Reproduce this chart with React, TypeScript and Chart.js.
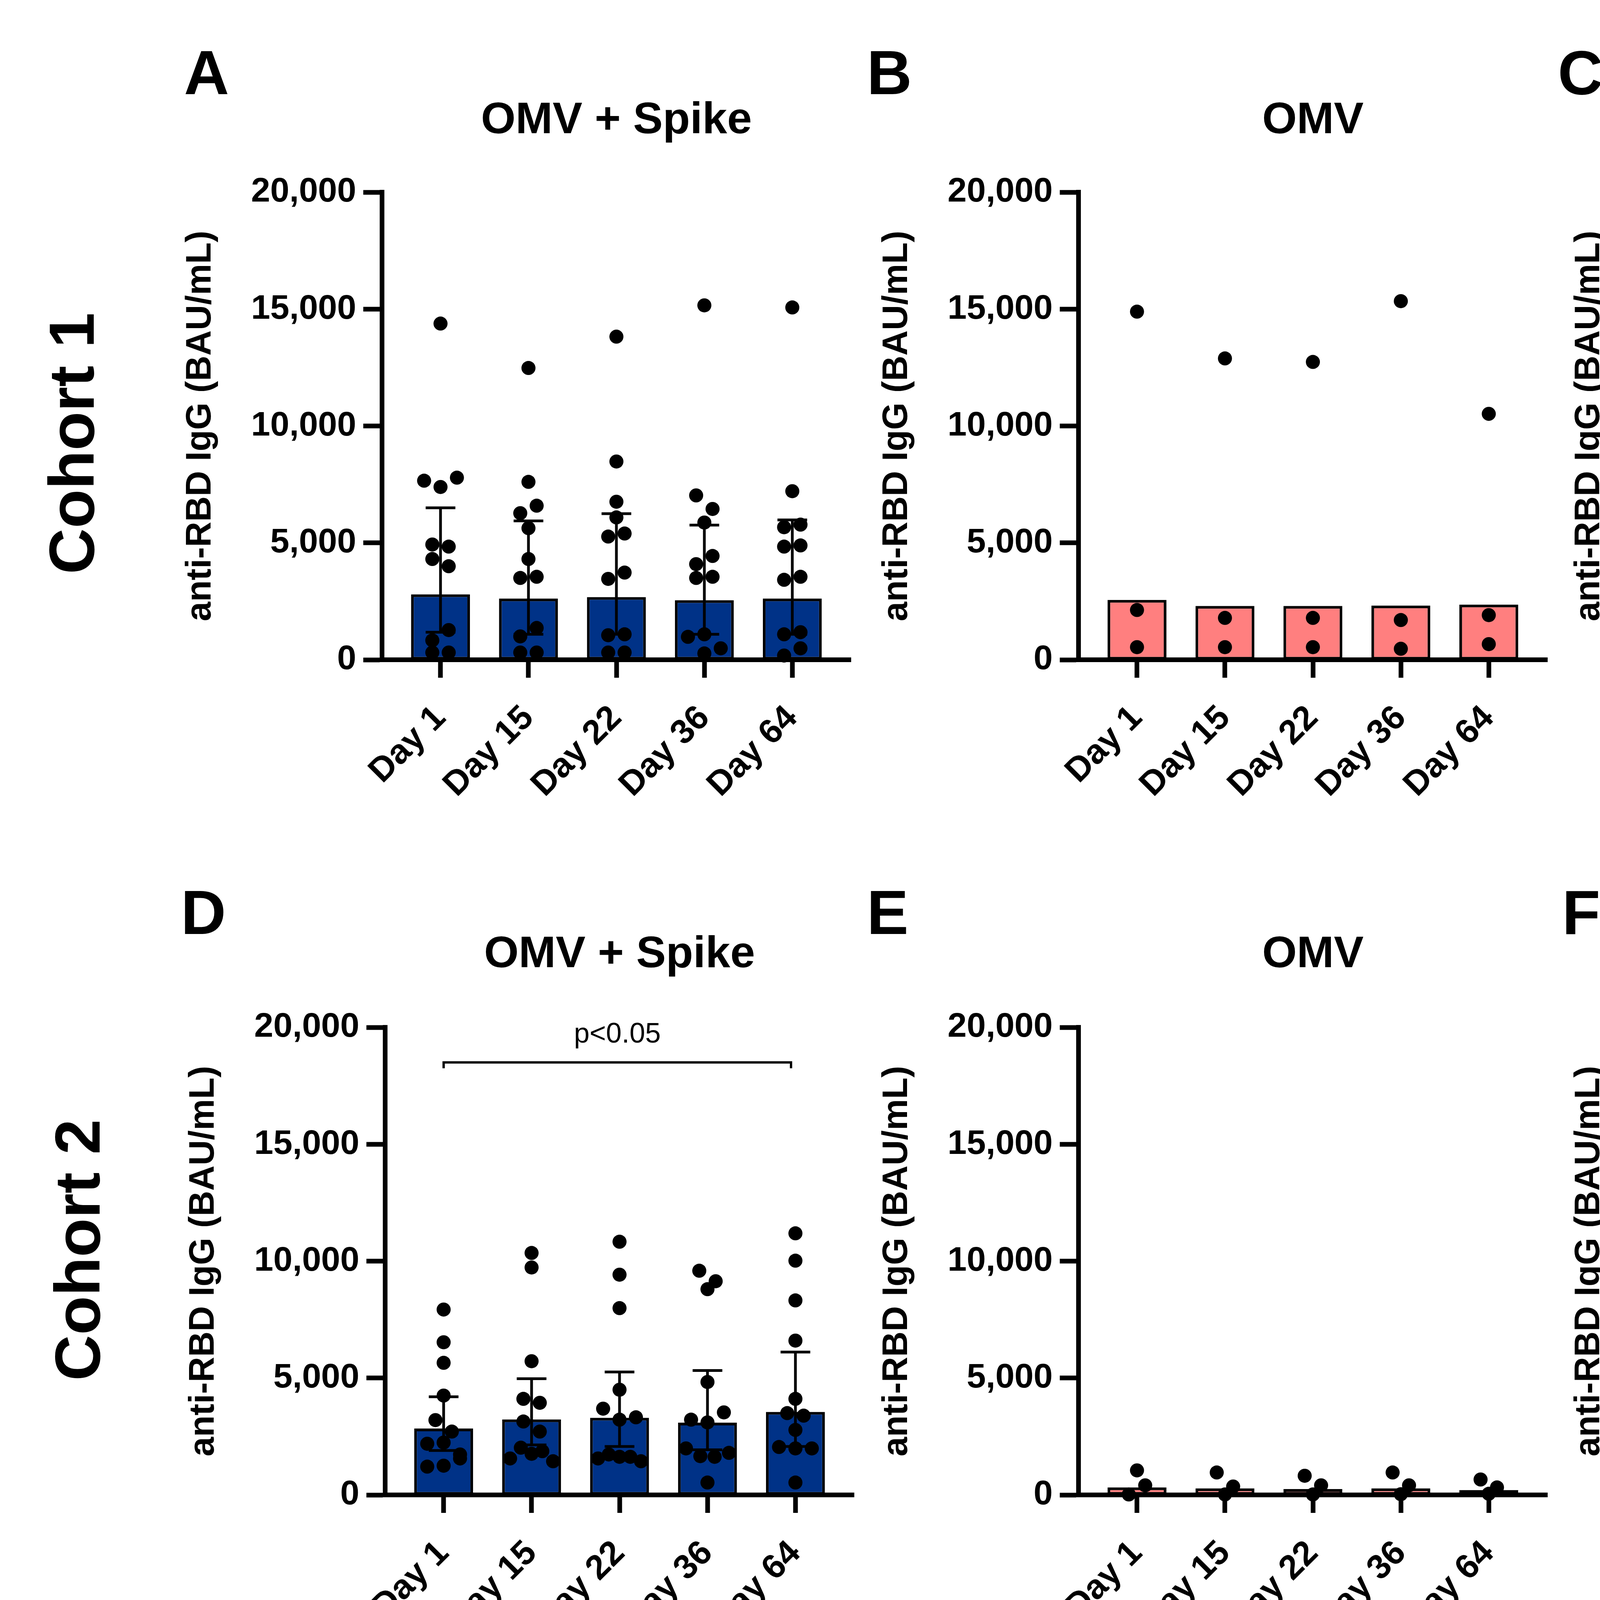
import React, { useEffect, useRef } from 'react';
import { Chart, registerables } from 'chart.js';

Chart.register(...registerables);

// ---------------- data ----------------
const CATEGORIES = ['Day 1', 'Day 15', 'Day 22', 'Day 36', 'Day 64'];
const Y_TICKS = [0, 5000, 10000, 15000, 20000];
const Y_MAX = 20000;
const Y_TITLE = 'anti-RBD IgG (BAU/mL)';
const COHORT_LABELS = ['Cohort 1', 'Cohort 2'];

// A: Cohort 1, OMV + Spike
const A_BARS = [2800, 2620, 2680, 2550, 2620];
const A_ERR_HIGH = [6500, 5940, 6250, 5760, 5980];
const A_ERR_LOW = [1180, 1090, 1090, 1090, 1090];
const A_DAY1 = [14380, 7660, 7390, 7790, 4310, 4930, 4840, 4000, 830, 1270, 310, 310];
const A_DAY15 = [12480, 7610, 6270, 6590, 5630, 4310, 3500, 3550, 1000, 1360, 310, 310];
const A_DAY22 = [13820, 8480, 6760, 6090, 5270, 5400, 3460, 3730, 1050, 1090, 310, 310];
const A_DAY36 = [15160, 7030, 6450, 5870, 4090, 4440, 3500, 3550, 980, 1090, 270, 490];
const A_DAY64 = [15070, 7210, 5670, 5780, 4840, 4890, 3420, 3550, 1090, 1180, 180, 490];

// B: Cohort 1, OMV
const B_BARS = [2560, 2300, 2300, 2320, 2360];
const B_DAY1 = [14890, 2130, 540];
const B_DAY15 = [12890, 1790, 540];
const B_DAY22 = [12740, 1790, 540];
const B_DAY36 = [15340, 1700, 470];
const B_DAY64 = [10520, 1910, 670];

// C: Cohort 1, Placebo
const C_BARS = [2300, 2480, 2660, 2390, 1000];
const C_DAY1 = [8630, 8340, 180];
const C_DAY15 = [12760, 8830, 180];
const C_DAY22 = [14100, 7670, 180];
const C_DAY36 = [12220, 7470, 180];
const C_DAY64 = [7980, 180];

// D: Cohort 2, OMV + Spike
const D_BARS = [2840, 3230, 3300, 3090, 3550];
const D_ERR_HIGH = [4200, 4970, 5260, 5320, 6110];
const D_ERR_LOW = [1900, 2140, 2070, 1930, 2070];
const D_DAY1 = [7930, 6530, 5650, 4250, 3200, 2190, 2240, 2710, 1210, 1730, 1250, 1560];
const D_DAY15 = [10350, 9730, 5720, 4110, 3940, 3140, 2710, 1560, 2020, 1760, 1870, 1440];
const D_DAY22 = [10830, 9420, 7990, 4500, 3690, 3220, 3320, 1560, 1730, 1630, 1630, 1440];
const D_DAY36 = [9590, 8800, 9140, 4830, 3220, 3100, 3530, 1990, 1660, 1630, 1800, 530];
const D_DAY64 = [11190, 10020, 8320, 6600, 4110, 3500, 3390, 2780, 2050, 1990, 1990, 530];
const D_BRACKET_FROM = 0;
const D_BRACKET_TO = 3.95;
const D_BRACKET_LEVEL = 18500;
const D_BRACKET_TICK_END = 18250;
const D_BRACKET_TEXT_LEVEL = 19350;
const D_BRACKET_TEXT = 'p<0.05';

// E: Cohort 2, OMV
const E_BARS = [320, 280, 250, 280, 210];
const E_DAY1 = [1050, 20, 410];
const E_DAY15 = [960, 20, 360];
const E_DAY22 = [820, 20, 410];
const E_DAY36 = [960, 30, 410];
const E_DAY64 = [660, 50, 320];

// F: Cohort 2, Placebo
const F_BARS = [5880, 5000, 5200, 5070, 4800];
const F_DAY1 = [12800, 5110, 3110];
const F_DAY15 = [10830, 4180, 2720];
const F_DAY22 = [12260, 4150, 2720];
const F_DAY36 = [11150, 3720, 3090];
const F_DAY64 = [10510, 3040, 3430];

// ---------------- styles / layout ----------------
const FONT = "'Liberation Sans', Arial, Helvetica, sans-serif";
const NAVY = '#003287';
const PINK = '#FF7F7F';
const GREY = '#A0A0A4';

const Y_AXIS_W = 600;
const PLOT_W = 1200;
const PAD_RIGHT = 40;
const PAD_TOP = 150;
const X_AXIS_H = 450;
const ROW_PLOT_TOP = [492, 2630];
const ROW_PLOT_H = [1197, 1197];
const X_MIN = -0.665;
const X_MAX = 4.665;
const DOT_R = 18;
const DOT_STEP_PX = 42;
const ROW_MAX_SPAN_PX = 110;

type Bracket = { from: number; to: number; level: number; tickEnd: number; textLevel: number; text: string };
type PanelDef = {
  letter: string;
  title: string;
  color: string;
  bars: number[];
  points: number[][];
  errHigh?: number[];
  errLow?: number[];
  bracket?: Bracket;
  row: number;
  axisX: number;
  letterLeft: number;
};

const PANELS: PanelDef[] = [
  { letter: 'A', title: 'OMV + Spike', color: NAVY, bars: A_BARS, points: [A_DAY1, A_DAY15, A_DAY22, A_DAY36, A_DAY64], errHigh: A_ERR_HIGH, errLow: A_ERR_LOW, row: 0, axisX: 978, letterLeft: 471 },
  { letter: 'B', title: 'OMV', color: PINK, bars: B_BARS, points: [B_DAY1, B_DAY15, B_DAY22, B_DAY36, B_DAY64], row: 0, axisX: 2761, letterLeft: 2219 },
  { letter: 'C', title: 'Placebo', color: GREY, bars: C_BARS, points: [C_DAY1, C_DAY15, C_DAY22, C_DAY36, C_DAY64], row: 0, axisX: 4533, letterLeft: 3988 },
  {
    letter: 'D', title: 'OMV + Spike', color: NAVY, bars: D_BARS, points: [D_DAY1, D_DAY15, D_DAY22, D_DAY36, D_DAY64], errHigh: D_ERR_HIGH, errLow: D_ERR_LOW,
    bracket: { from: D_BRACKET_FROM, to: D_BRACKET_TO, level: D_BRACKET_LEVEL, tickEnd: D_BRACKET_TICK_END, textLevel: D_BRACKET_TEXT_LEVEL, text: D_BRACKET_TEXT },
    row: 1, axisX: 986, letterLeft: 463,
  },
  { letter: 'E', title: 'OMV', color: PINK, bars: E_BARS, points: [E_DAY1, E_DAY15, E_DAY22, E_DAY36, E_DAY64], row: 1, axisX: 2761, letterLeft: 2219 },
  { letter: 'F', title: 'Placebo', color: GREY, bars: F_BARS, points: [F_DAY1, F_DAY15, F_DAY22, F_DAY36, F_DAY64], row: 1, axisX: 4533, letterLeft: 3999 },
];

const LETTER_TOP = [106, 2256];
const TITLE_TOP = [245, 2380];
const COHORT_CENTER = [
  { x: 183, y: 1135 },
  { x: 198, y: 3200 },
];

// Arrange dots of one group into centred rows (scatter-dot-plot style)
function swarmOffsets(vals: number[], plotH: number): number[] {
  const pxPerVal = plotH / Y_MAX;
  const pxPerCat = PLOT_W / (X_MAX - X_MIN);
  const diamVal = (2 * DOT_R) / pxPerVal;
  const order = vals.map((_, i) => i).sort((a, b) => vals[b] - vals[a]);
  const rows: number[][] = [];
  let cur: number[] = [];
  for (const i of order) {
    if (cur.length && (vals[cur[0]] - vals[i] >= diamVal || cur.length >= 5)) {
      rows.push(cur);
      cur = [];
    }
    cur.push(i);
  }
  if (cur.length) rows.push(cur);
  const off = new Array(vals.length).fill(0);
  rows.forEach((r) => {
    const s = [...r].sort((a, b) => a - b);
    const stepPx = s.length > 1 ? Math.min(DOT_STEP_PX, ROW_MAX_SPAN_PX / (s.length - 1)) : 0;
    const step = stepPx / pxPerCat;
    s.forEach((idx, j) => {
      off[idx] = (j - (s.length - 1) / 2) * step;
    });
  });
  return off;
}

function PanelChart({ p }: { p: PanelDef }) {
  const ref = useRef<HTMLCanvasElement>(null);
  const plotTop = ROW_PLOT_TOP[p.row];
  const plotH = ROW_PLOT_H[p.row];
  const width = Y_AXIS_W + PLOT_W + PAD_RIGHT;
  const height = PAD_TOP + plotH + X_AXIS_H;
  const left = p.axisX - Y_AXIS_W;
  const top = plotTop - PAD_TOP;

  useEffect(() => {
    const canvas = ref.current;
    if (!canvas) return;
    const pts: { x: number; y: number }[] = [];
    p.points.forEach((vals, i) => {
      const offs = swarmOffsets(vals, plotH);
      vals.forEach((v, j) => pts.push({ x: i + offs[j], y: v }));
    });

    const errorPlugin = {
      id: 'errorBars' + p.letter,
      afterDatasetDraw(chart: any, args: any) {
        if (args.index !== 1 || !p.errHigh || !p.errLow) return;
        const { ctx } = chart;
        const x = chart.scales.x;
        const y = chart.scales.y;
        ctx.save();
        ctx.strokeStyle = '#000';
        ctx.lineWidth = 7;
        ctx.lineCap = 'butt';
        p.errHigh.forEach((h, i) => {
          const px = x.getPixelForValue(i);
          const yh = y.getPixelForValue(h);
          const yl = y.getPixelForValue(p.errLow![i]);
          const cap = 38;
          ctx.beginPath();
          ctx.moveTo(px, yh);
          ctx.lineTo(px, yl);
          ctx.moveTo(px - cap, yh);
          ctx.lineTo(px + cap, yh);
          ctx.moveTo(px - cap, yl);
          ctx.lineTo(px + cap, yl);
          ctx.stroke();
        });
        ctx.restore();
      },
    };

    const bracketPlugin = {
      id: 'bracket' + p.letter,
      afterDatasetsDraw(chart: any) {
        const b = p.bracket;
        if (!b) return;
        const { ctx } = chart;
        const x = chart.scales.x;
        const y = chart.scales.y;
        const x0 = x.getPixelForValue(b.from);
        const x1 = x.getPixelForValue(b.to);
        const yl = y.getPixelForValue(b.level);
        const yt = y.getPixelForValue(b.tickEnd);
        ctx.save();
        ctx.strokeStyle = '#000';
        ctx.lineWidth = 6;
        ctx.lineJoin = 'miter';
        ctx.beginPath();
        ctx.moveTo(x0, yt);
        ctx.lineTo(x0, yl);
        ctx.lineTo(x1, yl);
        ctx.lineTo(x1, yt);
        ctx.stroke();
        ctx.fillStyle = '#000';
        ctx.font = `72px ${FONT}`;
        ctx.textAlign = 'center';
        ctx.textBaseline = 'alphabetic';
        ctx.fillText(b.text, (x0 + x1) / 2, y.getPixelForValue(b.textLevel));
        ctx.restore();
      },
    };

    const tickFont = { family: FONT, size: 88, weight: 'bold' as const };

    const chart = new Chart(canvas, {
      type: 'bar',
      data: {
        datasets: [
          {
            type: 'scatter',
            data: pts,
            backgroundColor: '#000',
            borderColor: '#000',
            borderWidth: 0,
            pointRadius: DOT_R,
            pointHoverRadius: DOT_R,
            order: 0,
            clip: false,
          } as any,
          {
            type: 'bar',
            data: p.bars.map((v, i) => ({ x: i, y: v })),
            backgroundColor: p.color,
            borderColor: '#000',
            borderWidth: 7,
            borderSkipped: false,
            barPercentage: 0.67,
            categoryPercentage: 1,
            order: 1,
          } as any,
        ],
      },
      options: {
        animation: false,
        responsive: false,
        devicePixelRatio: 1,
        events: [],
        layout: { padding: { top: PAD_TOP, right: PAD_RIGHT, left: 0, bottom: 0 } },
        plugins: {
          legend: { display: false },
          tooltip: { enabled: false },
          title: { display: false },
        },
        scales: {
          x: {
            type: 'linear',
            min: X_MIN,
            max: X_MAX,
            offset: false,
            afterBuildTicks: (ax: any) => {
              ax.ticks = CATEGORIES.map((_, i) => ({ value: i }));
            },
            afterFit: (s: any) => {
              s.height = X_AXIS_H;
            },
            grid: { display: true, offset: false, drawOnChartArea: false, drawTicks: true, tickLength: 46, tickWidth: 12, tickColor: '#000', color: '#000' },
            border: { display: true, width: 12, color: '#000' },
            ticks: {
              autoSkip: false,
              minRotation: 45,
              maxRotation: 45,
              padding: 52,
              color: '#000',
              font: tickFont,
              callback: (v: any) => CATEGORIES[Math.round(Number(v))] ?? '',
            },
          },
          y: {
            type: 'linear',
            min: 0,
            max: Y_MAX,
            afterBuildTicks: (ax: any) => {
              ax.ticks = Y_TICKS.map((v) => ({ value: v }));
            },
            afterFit: (s: any) => {
              s.width = Y_AXIS_W;
            },
            grid: { display: true, drawOnChartArea: false, drawTicks: true, tickLength: 48, tickWidth: 12, tickColor: '#000', color: '#000' },
            border: { display: true, width: 12, color: '#000' },
            ticks: {
              padding: 18,
              color: '#000',
              font: tickFont,
              callback: (v: any) => Number(v).toLocaleString('en-US'),
            },
            title: {
              display: true,
              text: Y_TITLE,
              color: '#000',
              font: { family: FONT, size: 90, weight: 'bold', lineHeight: 1.2 },
              padding: { top: 82, bottom: 0 },
            },
          },
        },
      } as any,
      plugins: [errorPlugin, bracketPlugin],
    });
    return () => chart.destroy();
  }, [p, plotH]);

  return (
    <canvas
      ref={ref}
      width={width}
      height={height}
      style={{ position: 'absolute', left, top, width, height }}
    />
  );
}

export default function App() {
  return (
    <div
      style={{
        position: 'absolute',
        left: 0,
        top: 0,
        width: 5884,
        height: 4334,
        background: '#fff',
        overflow: 'hidden',
        fontFamily: FONT,
        color: '#000',
      }}
    >
      {PANELS.map((p) => (
        <PanelChart key={p.letter} p={p} />
      ))}
      {PANELS.map((p) => (
        <div
          key={'l' + p.letter}
          style={{ position: 'absolute', left: p.letterLeft, top: LETTER_TOP[p.row], fontSize: 160, lineHeight: '160px', fontWeight: 700, whiteSpace: 'nowrap' }}
        >
          {p.letter}
        </div>
      ))}
      {PANELS.map((p) => (
        <div
          key={'t' + p.letter}
          style={{
            position: 'absolute',
            left: p.axisX + PLOT_W / 2 - 1000,
            width: 2000,
            top: TITLE_TOP[p.row],
            fontSize: 114,
            lineHeight: '114px',
            fontWeight: 700,
            textAlign: 'center',
            whiteSpace: 'nowrap',
          }}
        >
          {p.title}
        </div>
      ))}
      {COHORT_LABELS.map((c, i) => (
        <div
          key={c}
          style={{
            position: 'absolute',
            left: COHORT_CENTER[i].x,
            top: COHORT_CENTER[i].y,
            transform: 'translate(-50%, -50%) rotate(-90deg)',
            fontSize: 163,
            lineHeight: '163px',
            fontWeight: 700,
            whiteSpace: 'nowrap',
          }}
        >
          {c}
        </div>
      ))}
    </div>
  );
}
